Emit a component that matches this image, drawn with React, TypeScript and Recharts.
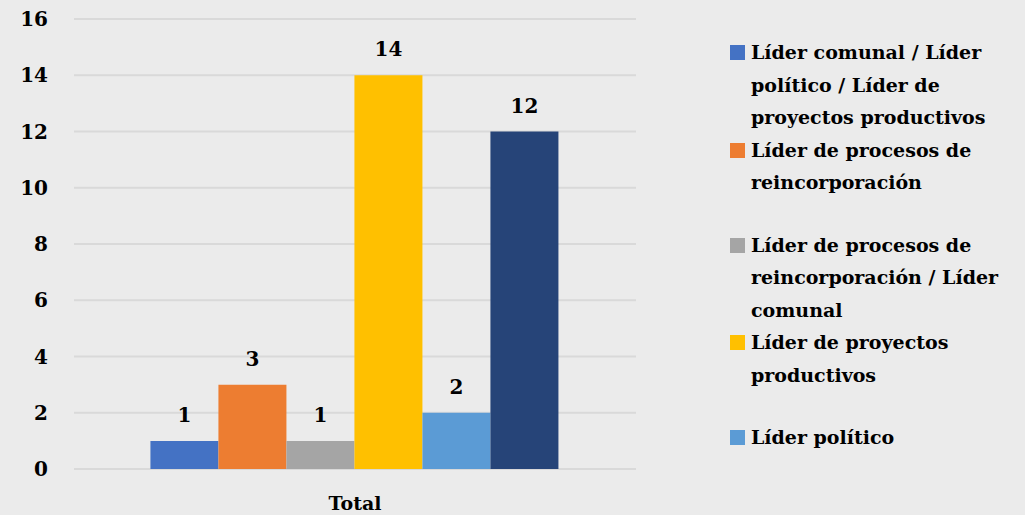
import React from "react";
import { BarChart, Bar, XAxis, YAxis, CartesianGrid, LabelList } from "recharts";

const categories = ["Total"];
const seriesNames = [
  "Líder comunal / Líder político / Líder de proyectos productivos",
  "Líder de procesos de reincorporación",
  "Líder de procesos de reincorporación / Líder comunal",
  "Líder de proyectos productivos",
  "Líder político",
  "Otros",
];
const seriesValues = [1, 3, 1, 14, 2, 12];
const seriesColors = ["#4472C4", "#ED7D31", "#A5A5A5", "#FFC000", "#5B9BD5", "#264478"];
const yTicks = [0, 2, 4, 6, 8, 10, 12, 14, 16];

// legend lines as wrapped in the original
const legendLines = [
  ["Líder comunal / Líder", "político / Líder de", "proyectos productivos"],
  ["Líder de procesos de", "reincorporación"],
  ["Líder de procesos de", "reincorporación / Líder", "comunal"],
  ["Líder de proyectos", "productivos"],
  ["Líder político"],
];
const legendGaps = [0, 0, 30, 0, 30];

const data = categories.map((name) => {
  const row: Record<string, string | number> = { name };
  seriesValues.forEach((v, i) => {
    row["s" + i] = v;
  });
  return row;
});

const FONT = "'DejaVu Serif', serif";

function LegendBox() {
  return (
    <div
      style={{
        position: "absolute",
        left: 730,
        top: 36,
        fontFamily: FONT,
        fontWeight: "bold",
        fontSize: 19,
        lineHeight: "32.5px",
        color: "#000",
      }}
    >
      {legendLines.map((lines, i) => (
        <div key={i} style={{ display: "flex", marginTop: legendGaps[i] }}>
          <div
            style={{
              width: 15,
              height: 15,
              background: seriesColors[i],
              marginTop: 9,
              marginRight: 6,
              flexShrink: 0,
            }}
          />
          <div>
            {lines.map((l, j) => (
              <div key={j} style={{ whiteSpace: "nowrap" }}>
                {l}
              </div>
            ))}
          </div>
        </div>
      ))}
    </div>
  );
}

export default function App() {
  return (
    <div style={{ position: "absolute", left: 0, top: 0, width: 1025, height: 515, background: "#ebebeb" }}>
      <BarChart
        width={1025}
        height={515}
        data={data}
        margin={{ top: 19, right: 389, left: 0, bottom: 0 }}
        barGap={0}
        barCategoryGap="13.6%"
      >
        <CartesianGrid vertical={false} stroke="#d9d9d9" strokeWidth={2} />
        <XAxis
          dataKey="name"
          axisLine={false}
          tickLine={false}
          height={46}
          tickMargin={22}
          tick={{ fill: "#000", fontFamily: FONT, fontWeight: "bold", fontSize: 19 }}
        />
        <YAxis
          width={74}
          domain={[0, 16]}
          ticks={yTicks}
          axisLine={false}
          tickLine={false}
          tickMargin={20}
          tick={{ fill: "#000", fontFamily: FONT, fontWeight: "bold", fontSize: 20 }}
        />
        {seriesNames.map((n, i) => (
          <Bar key={i} dataKey={"s" + i} name={n} fill={seriesColors[i]} isAnimationActive={false}>
            <LabelList
              dataKey={"s" + i}
              position="top"
              offset={19}
              style={{ fill: "#000", fontFamily: FONT, fontWeight: "bold", fontSize: 20 }}
            />
          </Bar>
        ))}
      </BarChart>
      <LegendBox />
    </div>
  );
}
